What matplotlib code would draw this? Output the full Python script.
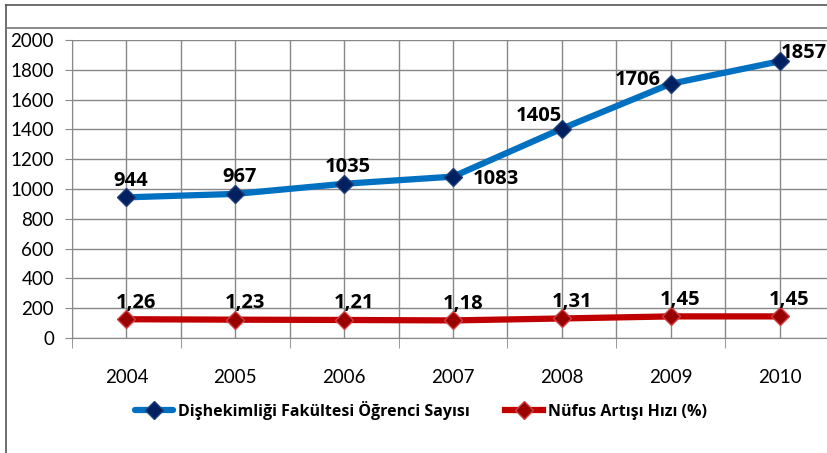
import numpy as np
import matplotlib.pyplot as plt
from matplotlib.lines import Line2D

# Data
years = ["2004", "2005", "2006", "2007", "2008", "2009", "2010"]
ogrenci = [944, 967, 1035, 1083, 1405, 1706, 1857]
nufus = [1.26, 1.23, 1.21, 1.18, 1.31, 1.45, 1.45]
nufus_labels = ["1,26", "1,23", "1,21", "1,18", "1,31", "1,45", "1,45"]
yticks = [0, 200, 400, 600, 800, 1000, 1200, 1400, 1600, 1800, 2000]

plt.rcParams['font.family'] = ['Lato', 'DejaVu Sans']
bold_font = dict(family=["Open Sans", "DejaVu Sans"], fontweight="bold")

fig = plt.figure(figsize=(8.27, 4.53), dpi=100)
ax = fig.add_axes([72 / 827, 1 - 338 / 453, 762 / 827, 298 / 453])

x = np.arange(len(years))
nufus_scaled = [v * 100 for v in nufus]

ax.plot(x, ogrenci, color="#0070C0", lw=4.5, marker="D", ms=9,
        mfc="#002060", mec="#1F3D7A", mew=1, solid_capstyle="round", zorder=3,
        label="Dişhekimliği Fakültesi Öğrenci Sayısı")
ax.plot(x, nufus_scaled, color="#C00000", lw=4.5, marker="D", ms=9,
        mfc="#990000", mec="#D04040", mew=1, zorder=3,
        label="Nüfus Artışı Hızı (%)")

# data labels for blue line (offsets in points)
offsets = [(3, 12, "center"), (3, 12, "center"), (3, 12, "center"),
           (14, -2, "left"), (0, 9, "right"), (-7, 3, "right"), (1, 6, "left")]
for xi, v, (dx, dy, ha) in zip(x, ogrenci, offsets):
    ax.annotate(str(v), (xi, v), xytext=(dx, dy), textcoords="offset points",
                ha=ha, va="center", fontsize=14.5, zorder=4, **bold_font)

for xi, v, lab in zip(x, nufus_scaled, nufus_labels):
    ax.annotate(lab, (xi, v), xytext=(7, 12), textcoords="offset points",
                ha="center", va="center", fontsize=14.5, zorder=4, **bold_font)

ax.set_xlim(-0.5, 6.5)
ax.set_ylim(0, 2000)
ax.set_yticks(yticks)
ax.set_xticks(x)
ax.set_xticklabels(years)
ax.set_xticks(np.arange(-0.5, 7, 1), minor=True)
ax.tick_params(axis="y", labelsize=13.5, length=5, color="#888888", pad=8)
ax.tick_params(axis="x", which="major", labelsize=13.5, length=0, pad=22)
ax.tick_params(axis="x", which="minor", length=7, color="#888888")

# grid: horizontal every 200, vertical at centres and boundaries
ax.grid(axis="y", color="#888888", lw=1)
for gx in np.arange(-0.5, 7, 0.5):
    ax.axvline(gx, color="#888888", lw=1, zorder=1)

for s in ["top", "right"]:
    ax.spines[s].set_visible(False)
ax.spines["left"].set_color("#888888")
ax.spines["bottom"].set_color("#888888")

ax.legend(loc="center", bbox_to_anchor=(0.458, -0.242), ncol=2, frameon=False,
          prop={"family": ["Open Sans", "DejaVu Sans"], "size": 11.5, "weight": "bold"},
          handlelength=2.4, columnspacing=2.2, handletextpad=0.3)

# outer frame lines
fig.add_artist(Line2D([6 / 827, 6 / 827], [0, 1 - 5 / 453], color="#555555", lw=1.2))
fig.add_artist(Line2D([6 / 827, 1], [1 - 5 / 453, 1 - 5 / 453], color="#555555", lw=1.2))
fig.add_artist(Line2D([6 / 827, 1], [1 - 28 / 453, 1 - 28 / 453], color="#777777", lw=1.2))

fig.savefig("out.png", dpi=100)
